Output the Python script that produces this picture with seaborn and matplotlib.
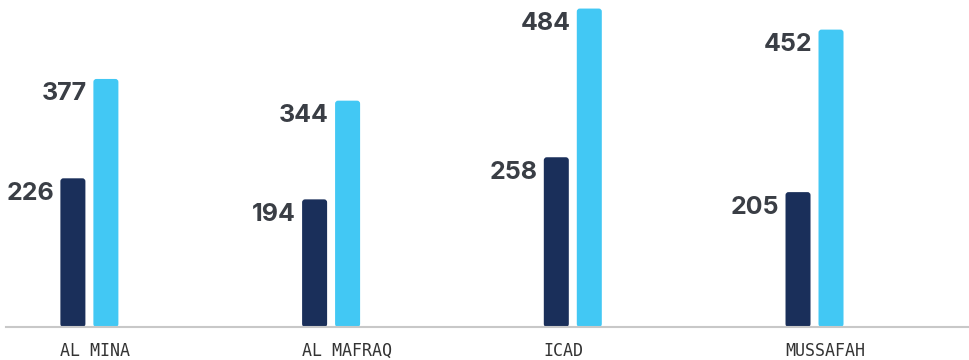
import matplotlib
matplotlib.use("Agg")
import matplotlib.pyplot as plt
import matplotlib.transforms as mtransforms
from matplotlib.patches import FancyBboxPatch
import pandas as pd
import seaborn as sns

# Data
categories = ["AL MINA", "AL MAFRAQ", "ICAD", "MUSSAFAH"]
series_names = ["previous", "current"]
previous_values = [226, 194, 258, 205]
current_values = [377, 344, 484, 452]

NAVY = "#1a2f5a"
CYAN = "#42c8f4"
LABEL = "#3a3e45"

df = pd.DataFrame({
    "site": categories * 2,
    "series": [series_names[0]] * 4 + [series_names[1]] * 4,
    "value": previous_values + current_values,
})

sns.set_theme(style="white")
plt.rcParams["font.family"] = ["Inter", "DejaVu Sans"]

fig = plt.figure(figsize=(9.7, 3.6), dpi=100)
ax = fig.add_axes([6 / 970, 33 / 360, 962 / 970, 327 / 360])

sns.barplot(
    data=df, x="site", y="value", hue="series", order=categories,
    hue_order=series_names, palette=[NAVY, CYAN],
    width=0.273, gap=0.242, legend=False, ax=ax, saturation=1,
)

ax.set_xlim(-0.345, 3.635)
ax.set_ylim(0, 497)

# swap plain rectangles for slightly rounded bars
px_x = 962 / (3.635 + 0.345)
px_y = 327 / 497
radius_px = 3.0
bars = list(ax.patches)
for p in bars:
    x, y = p.get_x(), p.get_y()
    w, h = p.get_width(), p.get_height()
    fc = p.get_facecolor()
    p.remove()
    r = radius_px / px_x
    rounded = FancyBboxPatch(
        (x, y), w, h,
        boxstyle=f"round,pad=0,rounding_size={r}",
        mutation_aspect=(radius_px / px_y) / r,
        facecolor=fc, edgecolor="none", linewidth=0,
    )
    ax.add_patch(rounded)
    # value label to the left of the bar top
    ax.annotate(
        f"{int(round(h))}", xy=(x, h), xytext=(-4.5, -15.5),
        textcoords="offset points", ha="right", va="baseline",
        fontsize=18, fontweight="bold", color=LABEL,
    )

# axis styling
for side in ["left", "right", "top"]:
    ax.spines[side].set_visible(False)
ax.spines["bottom"].set_color("#c8c8c8")
ax.spines["bottom"].set_linewidth(1.5)
ax.set_yticks([])
ax.set_xlabel("")
ax.set_ylabel("")
ax.set_xticks(range(len(categories)))
ax.set_xticklabels(categories)
ax.tick_params(axis="x", length=0, pad=10.5)
shift = mtransforms.ScaledTranslation(-29 / 100, 0, fig.dpi_scale_trans)
for lbl in ax.get_xticklabels():
    lbl.set_fontfamily("DejaVu Sans Mono")
    lbl.set_fontsize(12)
    lbl.set_color("#333333")
    lbl.set_horizontalalignment("left")
    lbl.set_transform(lbl.get_transform() + shift)

fig.savefig("out.png", dpi=100, facecolor="white")
